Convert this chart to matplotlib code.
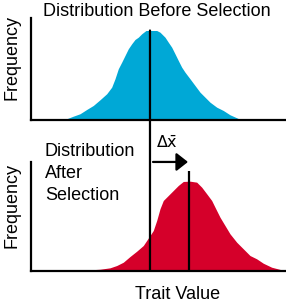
import matplotlib
matplotlib.use("Agg")
import matplotlib.pyplot as plt
from matplotlib.patches import ConnectionPatch

plt.rcParams["font.family"] = ["Liberation Sans", "DejaVu Sans"]

# ── Data (trait value in arbitrary units, frequency in arbitrary units) ──────
trait_before = [34, 35.7, 42.3, 49, 55.7, 62.3, 69, 75.7, 80.7, 84, 87.3, 90.7,
                94, 97.3, 100.7, 104, 107.3, 110.7, 115, 125.7, 129, 134,
                137.3, 140.7, 144, 147.3, 150.7, 154, 159, 164, 169, 174, 179,
                185.7, 192.3, 199, 205.7, 210.7]
freq_before = [0, 1.7, 4.3, 6.7, 11, 15, 20.7, 26.7, 33.3, 41.7, 51.7, 58.3,
               65, 71.7, 76.7, 81, 83.3, 86.7, 90, 90, 88.3, 83.3,
               78.3, 73.3, 66.7, 60, 53.3, 48.3, 41.7, 35, 28.3, 23.3, 18.3,
               13.3, 10, 5.7, 2.7, 0.3]

trait_after = [59, 69, 79, 85.7, 92.3, 99, 105.7, 112.3, 119, 122.3, 125.7,
               129, 132.3, 137.3, 142.3, 147.3, 152.3, 159, 165.7, 170.7,
               175.7, 180.7, 184, 189, 194, 199, 205.7, 212.3, 219, 225.7,
               232.3, 240.7, 250.7, 254]
freq_after = [0.7, 1.3, 2.7, 5, 8.3, 14, 19.3, 25, 35, 40, 50,
              61.7, 70, 75, 80, 85, 89, 89.3, 88.3, 83.3,
              76.7, 70, 63.3, 53.3, 45, 36.7, 28.3, 21.7, 15, 11.7,
              7.3, 3.3, 0.7, 0.3]

mean_before = 119
mean_after = 158

BLUE = "#00A8D6"
RED = "#D5002A"

fig = plt.figure(figsize=(2.86, 3.05), dpi=100)

ax_top = fig.add_axes([0.1084, 0.605, 0.888, 0.336])
ax_bot = fig.add_axes([0.1084, 0.113, 0.888, 0.356])

ax_top.fill_between(trait_before, freq_before, 0, color=BLUE, lw=0)
ax_top.set_ylim(0, 102.5)
ax_bot.fill_between(trait_after, freq_after, 0, color=RED, lw=0)
ax_bot.set_ylim(0, 108.5)

for ax in (ax_top, ax_bot):
    ax.set_xlim(0, 254)
    ax.set_xticks([])
    ax.set_yticks([])
    ax.spines[["top", "right"]].set_visible(False)
    ax.spines[["left", "bottom"]].set_linewidth(1.6)
    ax.spines[["left", "bottom"]].set_color("black")
    ax.patch.set_alpha(0)

# mean before: one line running through both panels
con = ConnectionPatch(xyA=(mean_before, max(freq_before)), coordsA=ax_top.transData,
                      xyB=(mean_before, 0), coordsB=ax_bot.transData,
                      color="black", lw=1.6)
fig.add_artist(con)

# mean after
ax_bot.plot([mean_after, mean_after], [0, 99.5], color="black", lw=1.6,
            solid_capstyle="butt")

# selection differential arrow
ax_bot.annotate("", xy=(mean_after - 1, 108.5), xytext=(mean_before + 3, 108.5),
                arrowprops=dict(arrowstyle="-|>,head_length=0.7,head_width=0.55",
                                color="black", lw=1.6, shrinkA=0, shrinkB=0),
                annotation_clip=False)
fig.text(0.584, 0.533, r"$\Delta\bar{\mathrm{x}}$", ha="center", va="center",
         fontsize=11.5)

# ── Labels ───────────────────────────────────────────────────────────────────
fig.text(0.549, 0.961, "Distribution Before Selection", ha="center",
         va="center", fontsize=13)
fig.text(0.157, 0.531, "Distribution\nAfter\nSelection", ha="left",
         va="top", fontsize=13, linespacing=1.37)
fig.text(0.042, 0.813, "Frequency", rotation=90, ha="center", va="center",
         fontsize=13)
fig.text(0.042, 0.326, "Frequency", rotation=90, ha="center", va="center",
         fontsize=13)
fig.text(0.622, 0.033, "Trait Value", ha="center", va="center", fontsize=13)

fig.savefig("out.png", dpi=100, facecolor="white")
